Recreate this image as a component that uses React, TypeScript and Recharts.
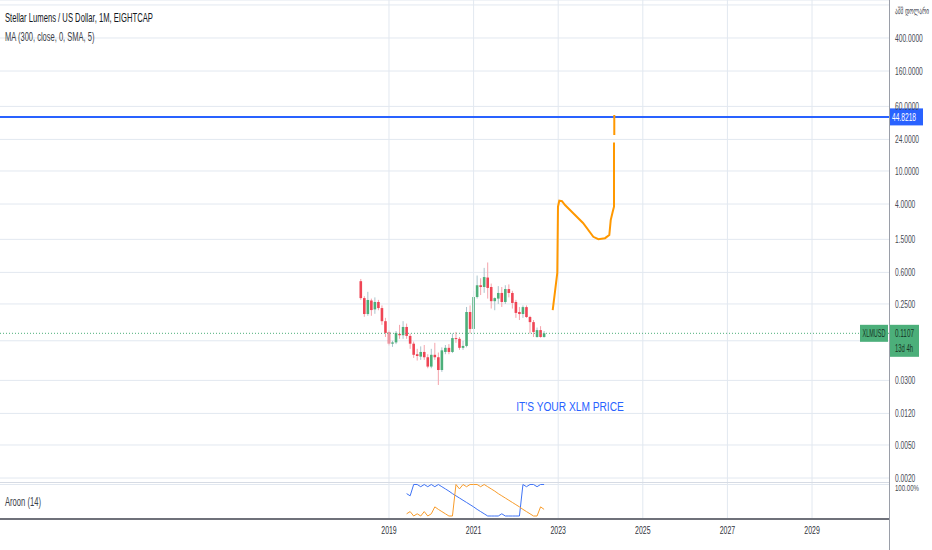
import React from 'react';
import {
  ComposedChart,
  LineChart,
  Line,
  Bar,
  XAxis,
  YAxis,
  CartesianGrid,
  ReferenceLine,
  ReferenceDot,
} from 'recharts';

// ---------- data ----------
const months = [
  '2018-05', '2018-06', '2018-07', '2018-08', '2018-09', '2018-10', '2018-11', '2018-12',
  '2019-01', '2019-02', '2019-03', '2019-04', '2019-05', '2019-06', '2019-07', '2019-08',
  '2019-09', '2019-10', '2019-11', '2019-12', '2020-01', '2020-02', '2020-03', '2020-04',
  '2020-05', '2020-06', '2020-07', '2020-08', '2020-09', '2020-10', '2020-11', '2020-12',
  '2021-01', '2021-02', '2021-03', '2021-04', '2021-05', '2021-06', '2021-07', '2021-08',
  '2021-09', '2021-10', '2021-11', '2021-12', '2022-01', '2022-02', '2022-03', '2022-04',
  '2022-05', '2022-06', '2022-07', '2022-08', '2022-09',
];
const opens = [
  0.47, 0.294, 0.189, 0.275, 0.215, 0.264, 0.223, 0.155,
  0.115, 0.083, 0.086, 0.109, 0.105, 0.132, 0.103, 0.083,
  0.062, 0.058, 0.066, 0.057, 0.044, 0.061, 0.057, 0.04,
  0.066, 0.074, 0.066, 0.097, 0.095, 0.074, 0.078, 0.2,
  0.125, 0.303, 0.42, 0.4, 0.52, 0.4, 0.27, 0.29,
  0.339, 0.264, 0.378, 0.339, 0.264, 0.2, 0.189, 0.229,
  0.174, 0.151, 0.1, 0.121, 0.1,
];
const highs = [
  0.5, 0.31, 0.35, 0.29, 0.3, 0.28, 0.24, 0.17,
  0.12, 0.09, 0.118, 0.14, 0.155, 0.145, 0.11, 0.088,
  0.072, 0.077, 0.08, 0.062, 0.072, 0.085, 0.065, 0.075,
  0.08, 0.082, 0.11, 0.115, 0.1, 0.09, 0.23, 0.24,
  0.36, 0.55, 0.51, 0.68, 0.79, 0.44, 0.3, 0.41,
  0.4, 0.42, 0.43, 0.36, 0.28, 0.23, 0.24, 0.24,
  0.18, 0.16, 0.13, 0.135, 0.118,
];
const lows = [
  0.28, 0.175, 0.18, 0.18, 0.19, 0.21, 0.14, 0.1,
  0.079, 0.076, 0.082, 0.095, 0.095, 0.095, 0.072, 0.056,
  0.052, 0.053, 0.053, 0.042, 0.042, 0.053, 0.0264, 0.038,
  0.062, 0.062, 0.064, 0.085, 0.07, 0.07, 0.075, 0.11,
  0.11, 0.29, 0.32, 0.34, 0.29, 0.22, 0.21, 0.25,
  0.23, 0.25, 0.3, 0.22, 0.17, 0.16, 0.17, 0.17,
  0.11, 0.1, 0.098, 0.098, 0.098,
];
const closes = [
  0.294, 0.189, 0.279, 0.211, 0.264, 0.223, 0.155, 0.112,
  0.083, 0.086, 0.112, 0.105, 0.132, 0.103, 0.083, 0.061,
  0.059, 0.066, 0.057, 0.044, 0.061, 0.057, 0.04, 0.069,
  0.074, 0.066, 0.097, 0.095, 0.074, 0.078, 0.2, 0.125,
  0.303, 0.42, 0.4, 0.527, 0.39, 0.27, 0.294, 0.339,
  0.264, 0.378, 0.339, 0.257, 0.195, 0.189, 0.229, 0.174,
  0.151, 0.115, 0.121, 0.1, 0.1107,
];

// Aroon (14), starting at 2019-06
const aroonMonths = months.slice(13);
const aroonUp = [
  7, 14, 0, 7, 0, 14, 0, 7, 29, 21,
  14, 7, 0, 0, 100, 86, 100, 93, 100, 100,
  100, 93, 100, 93, 86, 79, 71, 64, 57, 50,
  43, 36, 29, 21, 14, 7, 0, 0, 29, 21,
];
const aroonDown = [
  71, 64, 100, 100, 93, 100, 93, 100, 93, 100,
  93, 86, 79, 71, 64, 57, 50, 43, 36, 29,
  21, 14, 7, 0, 0, 0, 0, 7, 0, 0,
  0, 0, 0, 100, 93, 100, 100, 93, 100, 100,
];

// hand drawn projection (month index from Jan 2018, price); null = gap
const drawingMonths = [58.44, 59.09, 59.74, 59.94, 60.31, 61.08, 61.93, 64.2, 67.04, 69.96, 71.38, 73.28, 74.5, 74.9, 75.46, 75.83, 75.83, 75.87, 75.91, 75.91];
const drawingPrices = [0.211, 0.353, 0.59, 3.71, 4.38, 4.33, 3.89, 3.12, 2.36, 1.61, 1.51, 1.55, 1.69, 2.56, 3.23, 3.71, 22.0, null, 27.1, 47.2];

const priceTicks = [1000, 400, 160, 60, 24, 10, 4, 1.5, 0.6, 0.25, 0.09, 0.03, 0.012, 0.005, 0.002];
const yearTicks = [2019, 2021, 2023, 2025, 2027, 2029];
const lastPrice = 0.1107;
const targetPrice = 44.8218;
const symbol = 'XLMUSD';
const countdown = '13d 4h';
const currencyLabel = 'აშშ დოლარი';
const title = 'Stellar Lumens / US Dollar, 1M, EIGHTCAP';
const maTitle = 'MA (300, close, 0, SMA, 5)';
const aroonTitle = 'Aroon (14)';
const aroonTopLabel = '100.00%';
const annotation = "IT'S YOUR XLM PRICE";

// ---------- helpers ----------
const monthIndex = (s: string) => {
  const [y, m] = s.split('-').map(Number);
  return (y - 2018) * 12 + (m - 1);
};
const yearIndex = (y: number) => (y - 2018) * 12;

const mainData: any[] = [
  ...months.map((mo, i) => ({
    m: monthIndex(mo),
    o: opens[i],
    h: highs[i],
    l: lows[i],
    c: closes[i],
    range: [lows[i], highs[i]],
  })),
  ...drawingMonths.map((m, i) => ({ m, p: drawingPrices[i] })),
];
const aroon = aroonMonths.map((mo, i) => ({ m: monthIndex(mo), up: aroonUp[i], down: aroonDown[i] }));

const X_DOMAIN: [number, number] = [-98.35, 153.84];
const Y_DOMAIN: [number, number] = [0.001741, 1147.7];
const A_DOMAIN: [number, number] = [-9.52, 104.76];

const FONT = "'Liberation Sans', Arial, sans-serif";
const GEO_FONT = "'DejaVu Sans', sans-serif";
const GRID = '#e2e8f0';
const UP = '#4caf7a';
const DOWN = '#ef4454';
const BLUE = '#2962ff';
const ORANGE = '#ff9800';
const AXIS_TEXT = '#474a54';

// narrow text: measured, then squeezed horizontally to the width seen in the reference
let measureCtx: CanvasRenderingContext2D | null = null;
const measure = (s: string, size: number, font: string) => {
  if (!measureCtx) measureCtx = document.createElement('canvas').getContext('2d');
  if (!measureCtx) return s.length * size * 0.55;
  measureCtx.font = `${size}px ${font}`;
  return measureCtx.measureText(s).width || s.length * size * 0.55;
};
const NText = (p: any) => {
  const size = p.size || 11;
  const font = p.font || FONT;
  const s = String(p.children);
  const sx = p.w ? p.w / measure(s, size, font) : 1;
  return (
    <text
      transform={`translate(${p.x},${p.y}) scale(${sx},1)`}
      x={0}
      y={0}
      fontSize={size}
      fill={p.fill || AXIS_TEXT}
      textAnchor={p.anchor || 'start'}
      fontFamily={font}
    >
      {s}
    </text>
  );
};
const numWidth = (s: string) => {
  let w = 0;
  for (const ch of s) w += ch === '.' ? 1.6 : ch === '%' ? 4.5 : 3.75;
  return w;
};

const Candle = (props: any) => {
  const { x, y, width, height, payload } = props;
  if (x == null || y == null || !payload || payload.o == null) return null;
  const { o, h, l, c } = payload;
  const cx = x + width / 2;
  const lh = Math.log10(h);
  const ll = Math.log10(l);
  const py = (v: number) => y + (height * (lh - Math.log10(v))) / (lh - ll);
  const up = c >= o;
  const top = py(Math.max(o, c));
  const bot = py(Math.min(o, c));
  return (
    <g>
      <line x1={cx} x2={cx} y1={y} y2={y + height} stroke={up ? '#a9c4cc' : '#f4a3ab'} strokeWidth={1} />
      <rect x={cx - 1.3} y={top} width={2.6} height={Math.max(1, bot - top)} fill={up ? UP : DOWN} />
    </g>
  );
};

const PriceTick = (props: any) => {
  const { x, y, payload } = props;
  const v = payload.value;
  if (v === 0.09) return null;
  if (v === 1000)
    return (
      <NText x={x} y={y + 9} size={9} w={34} font={GEO_FONT}>
        {currencyLabel}
      </NText>
    );
  const s = v.toFixed(4);
  return (
    <NText x={x} y={y + 3.6} size={10.5} w={numWidth(s)}>
      {s}
    </NText>
  );
};

const AroonTick = (props: any) => {
  const { x, y } = props;
  return (
    <NText x={x} y={y + 7} size={9} w={24}>
      {aroonTopLabel}
    </NText>
  );
};

const YearTick = (props: any) => {
  const { x, y, payload } = props;
  const s = String(2018 + payload.value / 12);
  return (
    <NText x={x} y={y + 8.5} size={11.5} w={15.5} anchor="middle" fill="#30333c">
      {s}
    </NText>
  );
};

const TargetLabel = (props: any) => {
  const vb = props.viewBox || {};
  const right = (vb.x || 0) + (vb.width || 0);
  const yy = vb.y || 0;
  return (
    <g>
      <rect x={right + 1} y={yy - 8.5} width={33} height={17} fill={BLUE} />
      <NText x={right + 3} y={yy + 4} size={11} fill="#fff" w={numWidth(String(targetPrice))}>
        {targetPrice}
      </NText>
    </g>
  );
};

const LastLabel = (props: any) => {
  const vb = props.viewBox || {};
  const right = (vb.x || 0) + (vb.width || 0);
  const yy = vb.y || 0;
  return (
    <g>
      <rect x={right - 29} y={yy - 8.5} width={28} height={17} fill={UP} />
      <NText x={right - 15} y={yy + 3.5} size={10.5} fill="#173626" anchor="middle" w={23}>
        {symbol}
      </NText>
      <rect x={right + 1} y={yy - 8.5} width={29} height={32} fill={UP} />
      <NText x={right + 6} y={yy + 3.8} size={11} fill="#173626" w={19}>
        {lastPrice}
      </NText>
      <NText x={right + 6} y={yy + 18.8} size={11} fill="#173626" w={18}>
        {countdown}
      </NText>
    </g>
  );
};

const AnnotationLabel = (props: any) => {
  const vb = props.viewBox || {};
  const cx = (vb.x || 0) + (vb.width || 0) / 2;
  const cy = (vb.y || 0) + (vb.height || 0) / 2;
  return (
    <NText x={cx} y={cy + 4.5} size={13} fill={BLUE} anchor="middle" w={108}>
      {annotation}
    </NText>
  );
};

export default function App() {
  return (
    <div style={{ position: 'absolute', left: 0, top: 0, width: 932, height: 550, background: '#fff', overflow: 'hidden' }}>
      <ComposedChart width={932} height={483} data={mainData} margin={{ top: 0, right: 0, bottom: 0, left: 0 }}>
        <CartesianGrid vertical={false} stroke={GRID} />
        <XAxis type="number" dataKey="m" domain={X_DOMAIN} allowDataOverflow hide />
        <YAxis
          orientation="right"
          type="number"
          scale="log"
          domain={Y_DOMAIN}
          allowDataOverflow
          ticks={priceTicks}
          interval={0}
          width={43}
          axisLine={false}
          tickLine={false}
          tickSize={0}
          tickMargin={6}
          tick={<PriceTick />}
        />
        {yearTicks.map((yr) => (
          <ReferenceLine key={yr} x={yearIndex(yr)} stroke={GRID} />
        ))}
        <ReferenceLine y={lastPrice} stroke={UP} strokeDasharray="1 2" label={<LastLabel />} />
        <ReferenceLine y={targetPrice} stroke={BLUE} strokeWidth={2} label={<TargetLabel />} />
        <Bar dataKey="range" shape={<Candle />} barSize={3} isAnimationActive={false} />
        <Line
          dataKey="p"
          type="linear"
          stroke={ORANGE}
          strokeWidth={2}
          dot={false}
          activeDot={false}
          connectNulls={false}
          isAnimationActive={false}
        />
        <ReferenceDot x={63.35} y={0.0147} r={0} fill="none" stroke="none" label={<AnnotationLabel />} />
      </ComposedChart>
      <div style={{ position: 'absolute', left: 0, top: 482, width: 889, height: 1, background: '#d6dbe4' }} />
      <div style={{ position: 'absolute', left: 0, top: 477 }}>
        <LineChart width={932} height={73} data={aroon} margin={{ top: 6, right: 0, bottom: 0, left: 0 }}>
          <XAxis
            type="number"
            dataKey="m"
            domain={X_DOMAIN}
            allowDataOverflow
            ticks={yearTicks.map(yearIndex)}
            interval={0}
            height={31}
            axisLine={{ stroke: '#6f717a', strokeWidth: 2 }}
            tickLine={false}
            tickSize={0}
            tickMargin={6}
            tick={<YearTick />}
          />
          <YAxis
            orientation="right"
            type="number"
            domain={A_DOMAIN}
            allowDataOverflow
            ticks={[100]}
            interval={0}
            width={43}
            axisLine={false}
            tickLine={false}
            tickSize={0}
            tickMargin={6}
            tick={<AroonTick />}
          />
          {yearTicks.map((yr) => (
            <ReferenceLine key={yr} x={yearIndex(yr)} stroke={GRID} />
          ))}
          <ReferenceLine y={100} stroke={GRID} />
          <Line dataKey="down" type="linear" stroke="#3f73f5" strokeWidth={1} dot={false} activeDot={false} isAnimationActive={false} />
          <Line dataKey="up" type="linear" stroke="#f89c2b" strokeWidth={1} dot={false} activeDot={false} isAnimationActive={false} />
        </LineChart>
      </div>
      <div style={{ position: 'absolute', left: 889, top: 0, width: 1, height: 550, background: '#9a9ea8' }} />
      <svg width={932} height={550} style={{ position: 'absolute', left: 0, top: 0, pointerEvents: 'none' }}>
        <NText x={5} y={22} size={13} fill="#131722" w={148}>
          {title}
        </NText>
        <NText x={5} y={40.5} size={13} fill="#3b3e48" w={90}>
          {maTitle}
        </NText>
        <NText x={5} y={506} size={13} fill="#3b3e48" w={36}>
          {aroonTitle}
        </NText>
      </svg>
    </div>
  );
}
